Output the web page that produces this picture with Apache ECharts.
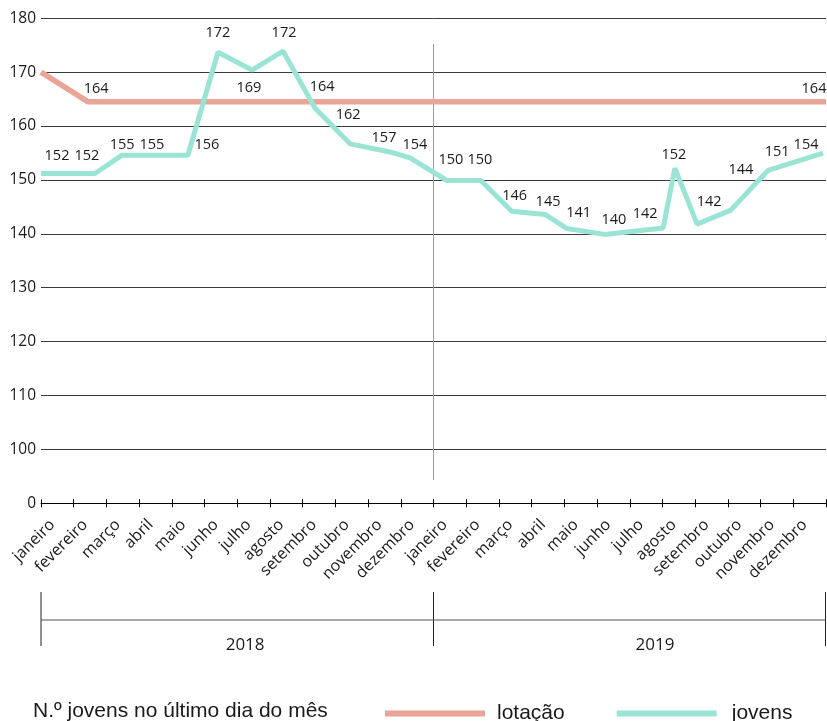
<!DOCTYPE html>
<html>
<head>
<meta charset="utf-8">
<script src="https://cdn.jsdelivr.net/npm/echarts@6/dist/echarts.min.js"></script>
<style>
  html, body { margin: 0; padding: 0; background: #fff; overflow: hidden; }
  #chart { width: 827px; height: 721px; }
</style>
</head>
<body>
<div id="chart"></div>
<script>
// meses e anos
var months = ['janeiro', 'fevereiro', 'março', 'abril', 'maio', 'junho', 'julho', 'agosto', 'setembro', 'outubro', 'novembro', 'dezembro'];
var years = ['2018', '2019'];
var yearCenters = [6.24, 18.77];
var yTicks = [90, 100, 110, 120, 130, 140, 150, 160, 170, 180];

// jovens: posição no tempo (em meses desde jan 2018) e valor desenhado
var jovensX = [0, 1.65, 2.48, 3.39, 4.49, 5.41, 6.45, 7.40, 8.38, 9.45, 10.67, 11.28, 12.41, 13.45, 14.39, 15.41, 16.07, 17.24, 19.02, 19.38, 20.06, 21.09, 22.23, 23.91];
var jovensValues = [151.2, 151.2, 154.6, 154.6, 154.6, 173.7, 170.4, 173.9, 163.3, 156.7, 155.2, 154.1, 149.9, 149.9, 144.2, 143.6, 141.0, 139.9, 141.1, 152.2, 141.8, 144.4, 151.8, 155.0];
var jovensLabels = ['152', '152', '155', '155', '156', '172', '169', '172', '164', '162', '157', '154', '150', '150', '146', '145', '141', '140', '142', '152', '142', '144', '151', '154'];

// lotação
var lotacaoX = [0, 1.44, 24];
var lotacaoValues = [170, 164.5, 164.5];
var lotacaoLabels = ['', '164', '164'];

var categories = [];
years.forEach(function () { months.forEach(function (m) { categories.push(m); }); });

var corLotacao = '#eba498';
var corJovens = '#9ae4d6';
var corTexto = '#1a1a1a';
var fonte = '"Open Sans", sans-serif';

// deslocamento das etiquetas (px)
var jovensNudge = [[16, -18], [-8, -18], [0, -10], [0, -10], [19, -10], [0, -19], [-3, 18], [1, -18], [7, -21], [-2, -29], [-6, -14], [5, -13],
    [4, -21], [-1, -21], [3, -15], [3, -13], [12, -16], [9, -15], [-18, -14], [-1, -13], [12, -22], [10, -40], [9, -18], [-17, -8]];
var lotacaoNudge = [[0, 0], [8, -13], [-12, -13]];

function buildData(xs, vals, labels, nudge) {
    var out = [];
    for (var i = 0; i < xs.length; i++) {
        out.push({
            value: [xs[i], vals[i]],
            label: {
                show: labels[i] !== '',
                formatter: labels[i],
                offset: nudge[i]
            }
        });
    }
    return out;
}

var labelStyle = {
    show: true,
    position: 'inside',
    color: corTexto,
    fontFamily: fonte,
    fontSize: 14.5
};

var chart = echarts.init(document.getElementById('chart'), null, { renderer: 'canvas' });

var option = {
    animation: false,
    backgroundColor: '#fff',
    grid: { left: 41, right: 1, top: 18.3, bottom: 217.7, containLabel: false, outerBoundsMode: 'none' },
    legend: {
        left: 380,
        top: 698,
        icon: 'rect',
        itemWidth: 100,
        itemHeight: 6,
        itemGap: 52,
        textStyle: { color: corTexto, fontFamily: '"Liberation Sans Narrow", sans-serif', fontSize: 21, padding: [0, 0, 0, 7] },
        data: [
            { name: 'lotação', itemStyle: { color: corLotacao } },
            { name: 'jovens', itemStyle: { color: corJovens }, textStyle: { padding: [0, 0, 0, 10] } }
        ]
    },
    xAxis: [{
        // meses: etiquetas no centro, traços nos limites
        type: 'category',
        data: categories,
        boundaryGap: true,
        axisLine: { show: true, onZero: false, lineStyle: { color: '#000', width: 1 } },
        axisTick: { show: true, length: 4, interval: 0, lineStyle: { color: '#000' } },
        axisLabel: {
            interval: 0,
            rotate: 45,
            margin: 14,
            padding: [0, 7, 0, 0],
            color: corTexto,
            fontFamily: fonte,
            fontSize: 16
        }
    }, {
        type: 'category',
        data: categories,
        boundaryGap: true,
        position: 'bottom',
        axisLine: { show: false },
        axisTick: { show: true, inside: true, length: 4, interval: 0, lineStyle: { color: '#000' } },
        axisLabel: { show: false }
    }, {
        // eixo contínuo (meses) para as linhas
        type: 'value',
        min: 0,
        max: 24,
        show: false
    }],
    yAxis: {
        type: 'value',
        min: 90,
        max: 180,
        interval: 10,
        axisLine: { show: false },
        axisTick: { show: false },
        splitLine: { show: true, lineStyle: { color: '#3a3a3a', width: 1 } },
        axisLabel: {
            margin: 5,
            color: corTexto,
            fontFamily: fonte,
            fontSize: 15.5,
            formatter: function (v) { return v === yTicks[0] ? '0' : String(v); }
        }
    },
    series: [{
        name: 'lotação',
        type: 'line',
        xAxisIndex: 2,
        symbol: 'circle',
        symbolSize: 0,
        itemStyle: { color: corLotacao },
        lineStyle: { color: corLotacao, width: 5.5 },
        label: labelStyle,
        data: buildData(lotacaoX, lotacaoValues, lotacaoLabels, lotacaoNudge),
        z: 3
    }, {
        name: 'jovens',
        type: 'line',
        xAxisIndex: 2,
        symbol: 'circle',
        symbolSize: 0,
        itemStyle: { color: corJovens },
        lineStyle: { color: corJovens, width: 5 },
        label: labelStyle,
        data: buildData(jovensX, jovensValues, jovensLabels, jovensNudge),
        z: 4
    }]
};

chart.setOption(option);

// separador entre anos, chaveta dos anos e título da legenda
var px = function (x) { return chart.convertToPixel({ xAxisIndex: 2 }, x); };
var xa = px(0), xm = px(12), xb = px(24) - 0.5;
var g = [];
g.push({ type: 'line', shape: { x1: xm, y1: 44, x2: xm, y2: 480 }, style: { stroke: '#a09a96', lineWidth: 1 }, z: 1 });
[xa, xm, xb].forEach(function (x) {
    g.push({ type: 'line', shape: { x1: x, y1: 592, x2: x, y2: 646 }, style: { stroke: '#222', lineWidth: 1 } });
});
g.push({ type: 'line', shape: { x1: xa, y1: 620, x2: xb, y2: 620 }, style: { stroke: '#555', lineWidth: 1.2 } });
years.forEach(function (y, k) {
    g.push({
        type: 'text',
        x: px(yearCenters[k]),
        y: 645,
        style: { text: y, fill: corTexto, font: '17px "Open Sans", sans-serif', align: 'center', verticalAlign: 'middle' }
    });
});
g.push({
    type: 'text',
    x: 33,
    y: 711,
    style: { text: 'N.º jovens no último dia do mês', fill: corTexto, font: '21px "Liberation Sans Narrow", sans-serif', verticalAlign: 'middle' }
});
chart.setOption({ graphic: g });
</script>
</body>
</html>
